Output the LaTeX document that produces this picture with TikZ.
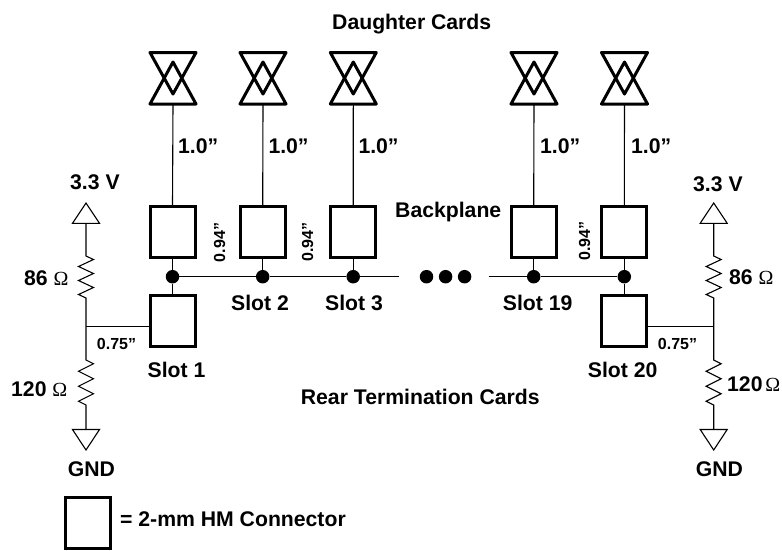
\documentclass[tikz,border=0pt]{standalone}
\usepackage{fontspec}
\setmainfont{Liberation Sans}
\newfontfamily\symbfont{Liberation Serif}
\newcommand{\ohm}{{\symbfont\mdseries\fontsize{20}{22}\selectfont\char"03A9}}
\tikzset{
  lbl/.style={inner sep=0pt,anchor=base west,font=\fontsize{21.2}{23}\selectfont\bfseries},
  sml/.style={inner sep=0pt,anchor=base,font=\fontsize{16}{18}\selectfont\bfseries},
  conn/.style={draw,line width=3pt,minimum width=45pt,minimum height=51pt,inner sep=0pt,line join=miter},
  wire/.style={line width=1.1pt},
  dot/.style={circle,fill=black,minimum size=13.5pt,inner sep=0pt},
  tri/.style={line width=3pt,line join=round},
  rail/.style={line width=1.1pt,line join=miter}
}
\begin{document}
\begin{tikzpicture}[x=1pt,y=-1pt]
\useasboundingbox (0,0) rectangle (782,550);
% daughter card loads
\foreach \n/\cx in {a/173,b/263,c/353.3,d/534,e/624.5}{
  \draw[tri] (\cx-23,52.5) -- (\cx+23,52.5) -- (\cx,94) -- cycle;
  \draw[tri] (\cx-23,104) -- (\cx+23,104) -- (\cx,62) -- cycle;
  \coordinate (load\n) at (\cx,104);
}
% connectors
\node[conn] (ca) at (172.5,232.2) {};
\node[conn] (cb) at (262.7,232.2) {};
\node[conn] (cc) at (353.2,232.2) {};
\node[conn] (cd) at (533.7,232.2) {};
\node[conn] (ce) at (624.3,232.2) {};
\node[conn] (r1) at (172.5,321) {};
\node[conn] (r20) at (624.3,321) {};
\node[conn] (legend) at (88,523) {};
% bus dots
\node[dot] (da) at (172.5,276.7) {};
\node[dot] (db) at (262.7,276.7) {};
\node[dot] (dc) at (353.2,276.7) {};
\node[dot] (dd) at (533.7,276.7) {};
\node[dot] (de) at (624.3,276.7) {};
\node[dot] (e1) at (426.5,276.7) {};
\node[dot] (e2) at (445.6,276.7) {};
\node[dot] (e3) at (464.6,276.7) {};
\coordinate (busl) at (399,276.7);
\coordinate (busr) at (488.5,276.7);
% wires
\foreach \n in {a,b,c,d,e}{
  \draw[wire] (load\n) -- (c\n.north);
  \draw[wire] (c\n.south) -- (d\n.center);
}
\draw[wire] (da) -- (db);
\draw[wire] (db) -- (dc);
\draw[wire] (dc) -- (busl);
\draw[wire] (busr) -- (dd);
\draw[wire] (dd) -- (de);
\draw[wire] (da) -- (r1);
\draw[wire] (de) -- (r20);
% terminations
\coordinate (jl) at (86,326.7);
\coordinate (jr) at (713.7,326.7);
\draw[wire] (jl) -- (jl -| r1.west);
\draw[wire] (jr) -- (jr -| r20.east);
\foreach \vx in {86,713.7}{
  \draw[rail] (\vx-13.5,223.3) -- (\vx,203) -- (\vx+13.5,223.3) -- cycle;
  \draw[rail] (\vx,223.3) -- (\vx,256)
     -- ++(7.5,3.5) -- ++(-15,7) -- ++(15,7) -- ++(-15,7) -- ++(15,7) -- ++(-15,7) -- ++(7.5,3.5) -- (\vx,360)
     -- ++(7.5,3.75) -- ++(-15,7.5) -- ++(15,7.5) -- ++(-15,7.5) -- ++(15,7.5) -- ++(-15,7.5) -- ++(7.5,3.75) -- (\vx,429.5);
  \draw[rail] (\vx-13.5,429.5) -- (\vx+13.5,429.5) -- (\vx,450) -- cycle;
}
% texts
\node[lbl] at (332,29.3) {Daughter Cards};
\foreach \cx in {178,268.3,358.3,540,631}{\node[lbl] at (\cx,153.3) {1.0”};}
\node[lbl] at (70,189) {3.3 V};
\node[lbl] at (693,191.7) {3.3 V};
\node[lbl] at (24,285) {86 \ohm};
\node[lbl] at (11,396) {120 \ohm};
\node[lbl] at (729,284) {86 \ohm};
\node[lbl] at (727,391) {120\hspace{-3pt} \ohm};
\node[lbl] at (395,217.3) {Backplane};
\node[sml,rotate=90] at (225,242.5) {0.94”};
\node[sml,rotate=90] at (313,242) {0.94”};
\node[sml,rotate=90] at (590,241) {0.94”};
\node[lbl] at (231,310) {Slot 2};
\node[lbl] at (325,310) {Slot 3};
\node[lbl] at (502.7,310) {Slot 19};
\node[lbl] at (147.5,377.7) {Slot 1};
\node[lbl] at (587.7,377.7) {Slot 20};
\node[sml] at (116.5,349) {0.75”};
\node[sml] at (677.5,349) {0.75”};
\node[lbl] at (300.7,404) {Rear Termination Cards};
\node[lbl] at (67.7,476.7) {GND};
\node[lbl] at (695.7,476.7) {GND};
\node[lbl] at (120,526.7) {= 2-mm HM Connector};
\end{tikzpicture}
\end{document}
